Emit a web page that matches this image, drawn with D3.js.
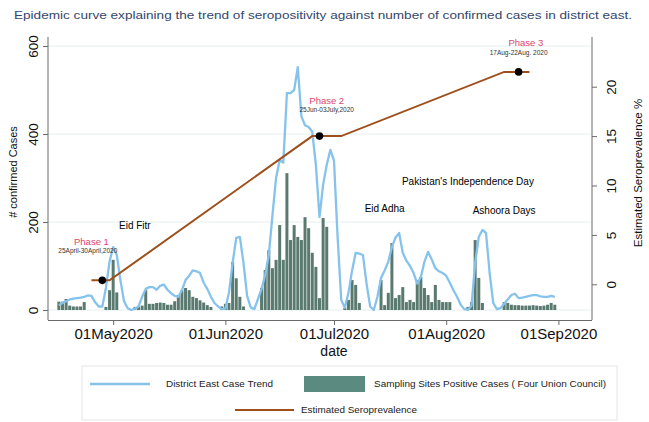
<!DOCTYPE html>
<html><head><meta charset="utf-8">
<script src="https://cdn.jsdelivr.net/npm/d3@7"></script>
<style>body{margin:0;background:#fff}svg{display:block;font-family:"Liberation Sans",Arial,sans-serif}</style>
</head><body><svg id="c" width="649" height="422"></svg>
<script>
// ---------- DATA ----------
const startDate = "2020-04-16"; // first day of the daily series
// District East case trend (daily)
const caseTrend = [
  11,16,20,24,26,27,28,30,33,32,18,8,8,50,110,
  143,125,68,20,4,0,3,8,30,48,
  52,52,46,55,58,46,38,32,30,45,
  68,78,90,88,84,62,48,30,16,8,
  2,3,40,107,164,166,107,32,6,2,
  25,48,80,125,215,300,341,335,493,493,
  500,552,440,420,416,405,330,211,285,330,
  364,340,166,23,5,39,90,130,128,125,
  60,8,0,30,73,90,110,143,165,175,
  130,112,100,84,60,75,110,132,115,95,
  88,84,78,62,45,30,12,2,0,10,
  107,166,182,175,84,16,2,4,14,24,
  34,37,27,28,30,32,34,34,31,30,
  30,32,30
];
// Sampling sites positive cases, four union councils (daily)
const siteCases = [
  19,19,25,10,8,8,8,18,0,0,0,0,0,7,45,
  114,40,0,0,0,0,7,7,10,45,
  14,14,16,17,16,12,12,20,34,45,
  50,45,30,27,22,17,11,7,0,0,
  8,14,16,109,72,30,8,0,0,0,
  0,50,91,136,95,114,193,114,311,159,
  193,166,159,211,186,130,98,27,209,189,
  0,0,0,0,5,23,68,57,16,0,
  0,0,0,0,68,11,39,152,27,34,
  52,18,23,18,68,75,50,34,18,57,
  23,18,18,18,0,0,0,0,7,18,
  159,73,16,0,0,0,0,0,18,16,
  12,11,11,10,10,10,11,10,9,10,
  12,16,12
];
// Estimated seroprevalence (%)
const seroDates  = ["2020-04-25","2020-04-30","2020-06-25","2020-07-03","2020-08-17","2020-08-24"];
const seroValues = [0.4, 0.4, 15, 15, 21.5, 21.5];
const phaseDates  = ["2020-04-28","2020-06-27","2020-08-21"];
const phaseValues = [0.4, 15, 21.5];
// Axes
const xTickDates  = ["2020-05-01","2020-06-01","2020-07-01","2020-08-01","2020-09-01"];
const xTickLabels = ["01May2020","01Jun2020","01Jul2020","01Aug2020","01Sep2020"];
const leftTicks  = [0, 200, 400, 600];
const rightTicks = [0, 5, 10, 15, 20];
// Annotations (anchored in data space: date, # confirmed cases)
const phaseLabels = ["Phase 1","Phase 2","Phase 3"];
const phaseLabelDates = ["2020-04-25","2020-06-29","2020-08-23"];
const phaseLabelValues = [148, 469, 600];
const phaseRanges = ["25April-30April,2020","25Jun-03July,2020","17Aug-22Aug. 2020"];
const phaseRangeDates = ["2020-04-24","2020-06-29","2020-08-21"];
const phaseRangeValues = [130, 449, 579];
const eventLabels = ["Eid Fitr","Pakistan's Independence Day","Eid Adha","Ashoora Days"];
const eventDates  = ["2020-05-07","2020-08-07","2020-07-15","2020-08-17"];
const eventValues = [185, 284, 222, 218];

// ---------- CHART ----------
const parse = d3.timeParse("%Y-%m-%d");
const svg = d3.select("#c");
const L = 48, R = 591, B = 320, T = 37;

const x = d3.scaleTime().domain([parse("2020-04-13"), parse("2020-09-10")]).range([L, R]);
const yL = d3.scaleLinear().domain([0, 600]).range([310, 46]);
const yR = d3.scaleLinear().domain([0, 20]).range([284.3, 86.7]);

const days = caseTrend.map((_, i) => d3.timeDay.offset(parse(startDate), i));

// title
svg.append("text").attr("x", 14).attr("y", 19)
  .attr("font-size", 11.5).attr("fill", "#34466b")
  .attr("textLength", 618).attr("lengthAdjust", "spacingAndGlyphs")
  .text("Epidemic curve explaining the trend of seropositivity against  number of confirmed cases in district east.");

// gridlines
svg.append("g").selectAll("line").data(leftTicks).join("line")
  .attr("x1", L).attr("x2", R).attr("y1", d => yL(d)).attr("y2", d => yL(d))
  .attr("stroke", "#e4eff0").attr("stroke-width", 1);

// bars
const bw = 3.0;
svg.append("g").selectAll("rect").data(siteCases.map((v, i) => ({d: days[i], v})).filter(o => o.v > 0))
  .join("rect")
  .attr("x", o => x(o.d) - bw / 2).attr("width", bw)
  .attr("y", o => yL(o.v)).attr("height", o => yL(0) - yL(o.v))
  .attr("fill", "#5a7a70");

// case trend line
svg.append("path").datum(caseTrend.map((v, i) => ({d: days[i], v})))
  .attr("fill", "none").attr("stroke", "#86c3ec").attr("stroke-width", 2.3)
  .attr("stroke-linejoin", "round")
  .attr("d", d3.line().x(o => x(o.d)).y(o => yL(o.v)));

// seroprevalence line
svg.append("path").datum(seroDates.map((s, i) => ({d: parse(s), v: seroValues[i]})))
  .attr("fill", "none").attr("stroke", "#9e4f1b").attr("stroke-width", 2)
  .attr("d", d3.line().x(o => x(o.d)).y(o => yR(o.v)));
svg.append("g").selectAll("circle").data(phaseDates.map((s, i) => ({d: parse(s), v: phaseValues[i]})))
  .join("circle").attr("cx", o => x(o.d)).attr("cy", o => yR(o.v)).attr("r", 3.8).attr("fill", "#000");

// axes lines
const axc = "#6b6b6b";
svg.append("line").attr("x1", L).attr("x2", L).attr("y1", T).attr("y2", B).attr("stroke", axc);
svg.append("line").attr("x1", R + 1).attr("x2", R + 1).attr("y1", T).attr("y2", B).attr("stroke", axc);

// bottom axis
const gx = svg.append("g").attr("transform", `translate(0,${B})`)
  .call(d3.axisBottom(x).tickValues(xTickDates.map(parse)).tickSize(5)
    .tickFormat((d, i) => xTickLabels[i]));
gx.select(".domain").attr("stroke", axc).attr("d", `M${L},0.5H${R + 1}`);
gx.selectAll(".tick line").attr("stroke", axc);
gx.selectAll(".tick text").attr("font-size", 15).attr("font-family", "Liberation Sans, Arial, sans-serif")
  .attr("fill", "#111").attr("y", 8);

// left axis
const gl = svg.append("g").attr("transform", `translate(${L},0)`)
  .call(d3.axisLeft(yL).tickValues(leftTicks).tickSize(5));
gl.select(".domain").remove();
gl.selectAll(".tick line").attr("stroke", axc);
gl.selectAll(".tick text").attr("font-size", 13.5).attr("font-family", "Liberation Sans, Arial, sans-serif")
  .attr("fill", "#111").attr("transform", "rotate(-90)").attr("x", 0).attr("y", -10)
  .attr("dy", 0).attr("text-anchor", "middle");

// right axis
const gr = svg.append("g").attr("transform", `translate(${R + 1},0)`)
  .call(d3.axisRight(yR).tickValues(rightTicks).tickSize(5));
gr.select(".domain").remove();
gr.selectAll(".tick line").attr("stroke", axc);
gr.selectAll(".tick text").attr("font-size", 13.5).attr("font-family", "Liberation Sans, Arial, sans-serif")
  .attr("fill", "#111").attr("transform", "rotate(-90)").attr("x", 0).attr("y", 24)
  .attr("dy", 0).attr("text-anchor", "middle");

// axis titles
svg.append("text").attr("transform", "translate(17,172) rotate(-90)").attr("text-anchor", "middle")
  .attr("font-size", 11).attr("fill", "#111").text("# confirmed Cases");
svg.append("text").attr("transform", "translate(642,173) rotate(-90)").attr("text-anchor", "middle")
  .attr("font-size", 11.5).attr("fill", "#111").text("Estimated Seroprevalence %");
svg.append("text").attr("x", (x(parse("2020-07-01")))).attr("y", 356).attr("text-anchor", "middle")
  .attr("font-size", 14).attr("fill", "#111").text("date");

// annotations
const ann = svg.append("g").attr("text-anchor", "middle");
phaseLabels.forEach((t, i) => {
  ann.append("text").attr("x", x(parse(phaseLabelDates[i]))).attr("y", yL(phaseLabelValues[i]))
    .attr("font-size", 9.5).attr("fill", "#e0456f").text(t);
  ann.append("text").attr("x", x(parse(phaseRangeDates[i]))).attr("y", yL(phaseRangeValues[i]))
    .attr("font-size", 6.5).attr("fill", "#333").text(phaseRanges[i]);
});
eventLabels.forEach((t, i) => {
  ann.append("text").attr("x", x(parse(eventDates[i]))).attr("y", yL(eventValues[i]))
    .attr("font-size", 10).attr("fill", "#000").text(t);
});

// legend
const lg = svg.append("g");
lg.append("rect").attr("x", 82).attr("y", 366).attr("width", 535).attr("height", 54)
  .attr("fill", "#fff").attr("stroke", "#e6e6e6");
lg.append("line").attr("x1", 90).attr("x2", 150).attr("y1", 384).attr("y2", 384)
  .attr("stroke", "#86c3ec").attr("stroke-width", 2.5);
lg.append("text").attr("x", 166).attr("y", 387).attr("font-size", 9).attr("fill", "#222")
  .attr("textLength", 107).attr("lengthAdjust", "spacingAndGlyphs").text("District East Case Trend");
lg.append("rect").attr("x", 304).attr("y", 376).attr("width", 61).attr("height", 16).attr("fill", "#5b8a80");
lg.append("text").attr("x", 374).attr("y", 387).attr("font-size", 9).attr("fill", "#222")
  .attr("textLength", 232).attr("lengthAdjust", "spacingAndGlyphs").text("Sampling Sites Positive Cases ( Four Union Council)");
lg.append("line").attr("x1", 235).attr("x2", 294).attr("y1", 410).attr("y2", 410)
  .attr("stroke", "#9e4f1b").attr("stroke-width", 2);
lg.append("text").attr("x", 301).attr("y", 413).attr("font-size", 9).attr("fill", "#222")
  .attr("textLength", 116).attr("lengthAdjust", "spacingAndGlyphs").text("Estimated Seroprevalence");
</script></body></html>
